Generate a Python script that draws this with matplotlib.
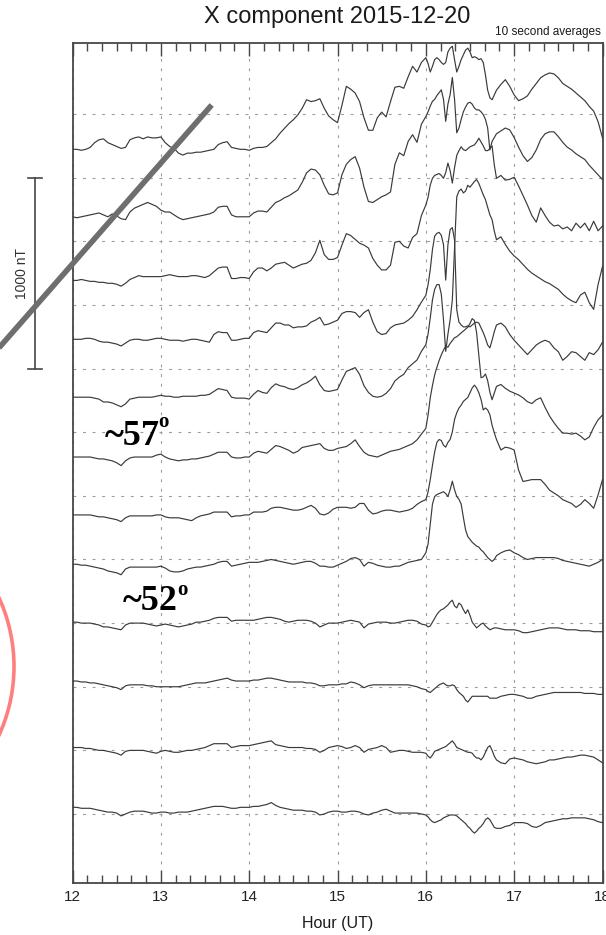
import numpy as np
import matplotlib
matplotlib.use("Agg")
import matplotlib.pyplot as plt
from matplotlib import transforms
from matplotlib.lines import Line2D
from matplotlib.patches import Circle
from matplotlib.ticker import MultipleLocator

plt.rcParams["font.family"] = ["Liberation Sans", "DejaVu Sans"]

# sample times (UT hours): 3 min steps, 1.5 min steps through the onset
hours = np.round(np.concatenate([
    np.arange(12.0, 15.99, 0.05),
    np.arange(16.0, 16.81, 0.025),
    np.arange(16.85, 18.01, 0.05),
]), 3)

# X component deviations (nT) for each station, highest latitude first
trace_1 = [
    -185, -185, -190, -185, -175, -150, -135, -130, -150, -160,
    -170, -180, -175, -135, -125, -120, -130, -120, -125, -125,
    -120, -150, -170, -180, -205, -215, -205, -205, -200, -200,
    -195, -190, -185, -160, -150, -145, -175, -180, -185, -185,
    -190, -180, -175, -175, -170, -150, -130, -100, -75, -50,
    -30, -5, 30, 75, 65, 70, 80, 30, -10, -30,
    -45, 45, 145, 130, 110, 65, -20, -85, -85, -20,
    10, -15, 65, 140, 145, 135, 195, 250, 220, 270,
    295, 265, 220, 250, 285, 295, 285, 270, 260, 270, 325, 345, 355, 285, 220, 250, 285,
    310, 335, 345, 325, 295, 300, 295, 285, 290, 270, 205, 125, 85, 75, 100, 125,
    155, 180, 145, 100, 70, 80, 95, 130, 160, 190, 205, 215,
    210, 190, 160, 145, 130, 110, 90, 70, 40, 15, -40, -125,
]
trace_2 = [
    -205, -210, -205, -200, -195, -190, -185, -195, -205, -190,
    -200, -215, -220, -180, -160, -150, -140, -130, -140, -150,
    -170, -180, -180, -195, -210, -220, -215, -210, -205, -200,
    -195, -190, -180, -155, -150, -150, -195, -205, -205, -205,
    -205, -185, -175, -175, -180, -155, -130, -120, -105, -95,
    -80, -65, -25, 25, 45, 40, 15, -40, -85, -90,
    -80, 15, 70, 95, 110, 50, -50, -125, -130, -115,
    -100, -90, -75, 70, 130, 115, 190, 225, 185, 280,
    320, 345, 375, 400, 410, 430, 445, 460, 410, 295, 385, 435, 525, 410, 235, 260, 305,
    345, 370, 390, 395, 385, 365, 355, 355, 345, 330, 305, 260, 145, 190, 210, 230,
    245, 260, 250, 210, 160, 115, 85, 105, 145, 200, 230, 240,
    240, 215, 185, 160, 145, 125, 110, 95, 65, 40, 15, -10,
]
trace_3 = [
    -205, -205, -200, -205, -210, -210, -215, -215, -220, -220,
    -225, -235, -220, -200, -190, -180, -185, -185, -185, -185,
    -185, -180, -175, -180, -185, -185, -185, -180, -180, -185,
    -190, -180, -160, -140, -135, -135, -195, -195, -190, -190,
    -195, -160, -140, -140, -155, -140, -120, -115, -110, -125,
    -140, -130, -120, -115, -100, -60, 5, -70, -95, -95,
    -85, -20, 40, 30, 10, -10, -20, -35, -90, -125,
    -150, -150, -125, -5, 0, -25, -35, 20, 40, 135,
    190, 230, 295, 330, 345, 350, 355, 345, 330, 360, 410, 370, 305, 385, 450, 475, 495,
    480, 475, 485, 495, 500, 505, 520, 540, 520, 500, 475, 475, 485, 500, 400, 330,
    345, 320, 325, 335, 290, 240, 190, 135, 100, 175, 135, 100,
    80, 85, 65, 75, 55, 95, 70, 95, 55, 105, 55, 80,
]
trace_4 = [
    -180, -180, -180, -175, -175, -180, -190, -195, -195, -200,
    -205, -215, -200, -185, -180, -180, -185, -185, -180, -175,
    -175, -180, -185, -185, -185, -190, -185, -180, -180, -185,
    -190, -195, -155, -140, -145, -145, -185, -185, -180, -175,
    -175, -145, -135, -140, -145, -120, -95, -95, -105, -105,
    -120, -115, -115, -110, -90, -80, -65, -105, -100, -90,
    -80, -45, -35, -35, -40, -65, -40, -25, -90, -140,
    -155, -150, -120, -105, -100, -95, -80, -60, -25, 15,
    50, 105, 185, 290, 360, 375, 380, 365, 315, 130, 315, 395, 405, 340, -25, -90, -105,
    -115, -115, -110, -115, -105, -95, -90, -95, -120, -145, -175, -210, -225, -185, -140, -105,
    -95, -115, -155, -185, -210, -235, -260, -235, -210, -195, -185, -195,
    -225, -245, -290, -270, -245, -250, -270, -290, -250, -260, -235, -195,
]
trace_5 = [
    -150, -150, -150, -150, -150, -155, -160, -175, -175, -180,
    -190, -200, -185, -160, -155, -150, -150, -150, -150, -145,
    -140, -145, -145, -150, -150, -145, -145, -145, -145, -140,
    -140, -135, -120, -105, -110, -115, -150, -155, -155, -155,
    -160, -135, -115, -125, -130, -100, -80, -90, -95, -105,
    -110, -100, -85, -75, -60, -40, -85, -115, -120, -115,
    -110, -60, -15, -5, 5, -30, -90, -125, -145, -150,
    -145, -130, -105, -65, -45, -30, 5, 25, 45, 90,
    125, 180, 265, 360, 415, 440, 440, 390, 255, 90, 180, 255, 360, 625, 900, 930, 940,
    920, 930, 960, 950, 965, 980, 990, 970, 940, 910, 885, 845, 805, 780, 720, 675,
    690, 650, 615, 590, 570, 545, 520, 500, 485, 470, 455, 445,
    430, 415, 390, 370, 355, 345, 385, 400, 345, 310, 440, 535,
]
trace_6 = [
    -130, -130, -130, -130, -130, -135, -140, -140, -145, -150,
    -160, -175, -150, -135, -130, -130, -130, -130, -130, -120,
    -115, -130, -140, -145, -150, -145, -145, -140, -140, -135,
    -130, -125, -115, -105, -105, -105, -130, -135, -135, -130,
    -130, -110, -100, -105, -110, -90, -70, -75, -85, -95,
    -110, -100, -80, -75, -70, -65, -60, -85, -95, -95,
    -85, -80, -75, -60, -40, -75, -105, -120, -125, -130,
    -120, -110, -100, -95, -90, -80, -70, -60, -40, -10,
    20, 90, 180, 245, 300, 340, 375, 405, 430, 450, 445, 465, 480, 495, 500, 510, 520,
    530, 540, 550, 570, 595, 585, 520, 405, 285, 290, 305, 270, 210, 170, 205, 240,
    250, 230, 215, 205, 195, 180, 160, 150, 170, 180, 130, 85,
    50, 20, -5, -5, -10, -5, -20, -40, -25, 25, 65, 90,
]
trace_7 = [
    -100, -100, -100, -100, -100, -105, -110, -110, -115, -120,
    -125, -135, -115, -105, -105, -105, -105, -105, -105, -100,
    -100, -110, -115, -115, -115, -120, -125, -130, -115, -105,
    -100, -95, -85, -85, -85, -85, -110, -105, -105, -100,
    -100, -85, -85, -85, -80, -65, -60, -60, -65, -70,
    -75, -75, -70, -60, -50, -65, -95, -100, -90, -70,
    -60, -60, -60, -65, -60, -40, -40, -75, -95, -90,
    -80, -75, -75, -80, -85, -80, -75, -65, -45, -30,
    -20, 20, 85, 160, 230, 280, 295, 290, 265, 255, 280, 295, 335, 400, 435, 460, 475,
    495, 505, 515, 540, 565, 580, 565, 540, 505, 450, 460, 450, 425, 370, 330, 295,
    240, 255, 250, 240, 135, 75, 80, 85, 85, 85, 60, 30,
    15, 0, -20, -30, -40, -60, -45, -20, -40, -65, 5, 85,
]
trace_8 = [
    -25, -25, -30, -30, -35, -40, -45, -50, -60, -65,
    -70, -80, -50, -40, -40, -40, -40, -40, -40, -40,
    -35, -45, -60, -65, -65, -60, -50, -45, -40, -40,
    -35, -30, -25, -15, -10, -10, -35, -30, -25, -20,
    -15, -15, -15, -10, -5, 0, -5, -10, -15, -20,
    -25, -20, -15, -10, -10, -20, -35, -35, -40, -40,
    -30, -20, -10, 5, 10, 0, -35, -15, -20, -30,
    -35, -40, -40, -35, -35, -25, -15, -10, -5, 0,
    35, 80, 185, 290, 330, 340, 345, 350, 355, 345, 330, 365, 410, 365, 330, 315, 290,
    220, 155, 120, 105, 90, 80, 70, 65, 50, 40, 25, 10, 0, -10, 0, 20,
    35, 45, 50, 35, 25, 10, 0, 5, 10, 10, 10, 10,
    10, 5, -5, -10, -15, -20, -25, -30, -35, -25, -15, 0,
]
trace_9 = [
    5, 5, 0, 0, 0, -5, -10, -20, -20, -25,
    -30, -35, -10, 0, 0, 0, 0, -5, -10, -15,
    -10, -5, -10, -15, -20, -15, -10, -5, 5, 5,
    10, 15, 25, 30, 30, 30, 10, 15, 15, 15,
    15, 15, 20, 25, 30, 30, 25, 20, 10, 5,
    10, 15, 15, 15, 10, 0, -20, -10, 0, 0,
    0, 5, 10, 15, 10, 5, -25, -5, 0, 5,
    5, 5, 0, 0, 5, 10, 15, 15, 10, -5,
    -10, -20, -15, 5, 25, 45, 60, 70, 75, 85, 95, 110, 120, 90, 80, 105, 95,
    70, 50, 70, 40, 5, -10, -25, -15, -5, 0, -15, -25, -35, -30, -25, -25,
    -30, -35, -35, -35, -40, -50, -50, -45, -40, -35, -30, -25,
    -25, -25, -30, -35, -35, -35, -40, -40, -40, -45, -45, -45,
]
trace_10 = [
    30, 30, 25, 25, 20, 20, 15, 10, 5, 0,
    -5, -15, 5, 10, 10, 10, 10, 5, 5, 0,
    0, 0, 0, 0, 0, 5, 10, 15, 20, 20,
    20, 25, 30, 35, 40, 45, 35, 30, 30, 30,
    30, 35, 35, 40, 45, 45, 40, 35, 30, 25,
    25, 25, 25, 20, 20, 15, 5, 5, 10, 10,
    10, 15, 15, 25, 20, 10, -5, 5, 10, 10,
    10, 10, 10, 10, 10, 10, 10, 5, 0, -10,
    -15, -25, -30, -20, -10, 0, 10, 15, 20, 10, 5, 5, 10, 5, -15, -30, -40,
    -50, -70, -80, -65, -50, -50, -50, -50, -50, -50, -50, -50, -60, -60, -60, -60,
    -50, -45, -40, -40, -45, -50, -60, -60, -50, -45, -40, -35,
    -30, -30, -30, -30, -30, -30, -30, -35, -35, -35, -40, -40,
]
trace_11 = [
    15, 15, 15, 10, 10, 5, 0, 0, -5, -10,
    -15, -25, -5, 0, 0, 0, 0, -5, -10, -15,
    -5, 0, -5, -10, -10, -5, 0, 0, 5, 10,
    15, 25, 35, 35, 35, 35, 15, 20, 25, 25,
    25, 30, 35, 40, 45, 50, 30, 25, 20, 15,
    15, 15, 15, 10, 10, 5, -10, 0, 15, 20,
    25, 20, 10, 15, 25, 15, -10, 5, 10, 15,
    25, 15, -10, -5, 0, 0, -5, -10, -10, -10,
    -15, -30, -40, -25, -5, 0, 5, 10, 15, 20, 30, 40, 50, 35, 15, 10, 5,
    0, -5, -10, -10, -15, -30, -40, -40, -50, -35, -10, 15, 25, 0, -30, -50,
    -65, -70, -45, -40, -45, -50, -60, -65, -70, -65, -60, -50,
    -50, -45, -40, -35, -35, -30, -25, -25, -30, -35, -50, -65,
]
trace_12 = [
    35, 35, 30, 30, 30, 25, 20, 15, 10, 10,
    5, -10, 0, 10, 15, 15, 15, 10, 5, 5,
    10, 10, 5, 5, 10, 10, 10, 15, 20, 25,
    30, 35, 40, 40, 40, 35, 30, 30, 35, 35,
    35, 40, 40, 45, 50, 60, 45, 35, 30, 25,
    20, 20, 20, 15, 15, 10, -5, 0, 10, 15,
    15, 10, 10, 15, 15, 10, 0, -5, 5, 10,
    20, 25, 15, 5, 5, 5, 5, 5, 5, 0,
    -5, -15, -30, -40, -45, -40, -35, -30, -20, -15, -10, -5, -5, -5, -10, -20, -30,
    -40, -50, -65, -75, -90, -100, -90, -75, -65, -50, -30, -20, -30, -50, -70, -75,
    -75, -65, -60, -45, -45, -45, -50, -65, -70, -60, -45, -40,
    -35, -30, -25, -25, -20, -20, -20, -20, -25, -30, -40, -45,
]

traces = [trace_1, trace_2, trace_3, trace_4, trace_5, trace_6,
          trace_7, trace_8, trace_9, trace_10, trace_11, trace_12]

for n, tr in enumerate(traces, start=1):
    if len(tr) != len(hours):
        raise ValueError(f"trace_{n}: {len(tr)} values for {len(hours)} times")

spacing = 1000.0 / 3.0          # nT between station baselines
baselines = -spacing * np.arange(len(traces))
line_color = "#3a3a3a"
frame_color = "#474747"

fig = plt.figure(figsize=(6.06, 9.35), dpi=100)
ax = fig.add_axes([72.5 / 606, 52 / 935, 530 / 606, 840 / 935])

for base, tr in zip(baselines, traces):
    ax.plot(hours, np.asarray(tr) + base, color=line_color, lw=0.85, zorder=3)

ax.set_xlim(12, 18)
ax.set_ylim(-4028, 372)

# dotted guide lines at every hour and every station baseline
ax.set_xticks(range(12, 19))
ax.set_xticklabels([str(h) for h in range(12, 19)])
ax.xaxis.set_minor_locator(MultipleLocator(1 / 6))
ax.set_yticks(baselines)
ax.grid(True, which="major", color="#9c9c9c", linestyle=(0, (2.6, 6.0)), linewidth=0.8)
ax.tick_params(axis="y", length=0, labelleft=False)
ax.tick_params(axis="x", which="major", direction="in", length=9.4, width=1.0,
               top=True, bottom=True, color=frame_color, labelsize=11, pad=5,
               labelcolor="#222222")
ax.tick_params(axis="x", which="minor", direction="in", length=5.8, width=1.0,
               top=True, bottom=True, color=frame_color)
for sp in ax.spines.values():
    sp.set_color(frame_color)
    sp.set_linewidth(1.3)

fig.text(337.5 / 606, 1 - 23.5 / 935, "X component 2015-12-20", ha="center",
         va="baseline", fontsize=17, color="#1a1a1a")
fig.text(601 / 606, 1 - 35.5 / 935, "10 second averages", ha="right",
         va="baseline", fontsize=8.5, color="#1a1a1a")
fig.text(337.5 / 606, 1 - 928 / 935, "Hour (UT)", ha="center", va="baseline",
         fontsize=11.5, color="#1a1a1a")

# 1000 nT scale bar left of the panel
bar = transforms.blended_transform_factory(fig.transFigure, ax.transData)
y0, y1 = baselines[1], baselines[1] - 1000
ax.plot([35 / 606, 35 / 606], [y0, y1], color=frame_color, lw=1.2,
        transform=bar, clip_on=False)
for yc in (y0, y1):
    ax.plot([28 / 606, 42 / 606], [yc, yc], color=frame_color, lw=1.2,
            transform=bar, clip_on=False)
ax.text(22 / 606, (y0 + y1) / 2, "1000 nT", transform=bar, rotation=90,
        ha="center", va="center", fontsize=10, color="#333333")

# latitude labels
serif = ["Liberation Serif", "DejaVu Serif"]
ax.text(12.368, -1734, "~57", family=serif, fontweight="bold", fontsize=26,
        ha="left", va="baseline", zorder=5)
ax.text(12.975, -1640, "o", family=serif, fontweight="bold", fontsize=15,
        ha="left", va="baseline", zorder=5)
ax.text(12.573, -2598, "~52", family=serif, fontweight="bold", fontsize=26,
        ha="left", va="baseline", zorder=5)
ax.text(13.19, -2519, "o", family=serif, fontweight="bold", fontsize=15,
        ha="left", va="baseline", zorder=5)

# gray slash and red ring drawn over the figure (inches from lower left)
fig.add_artist(Line2D([-0.2, 2.117], [5.655, 8.30], transform=fig.dpi_scale_trans,
                      color="#6e6e6e", lw=4.0, solid_capstyle="butt", zorder=10))
fig.add_artist(Circle((-1.51, 2.685), 1.65, transform=fig.dpi_scale_trans,
                      fill=False, edgecolor="#ff7f7f", lw=2.6, zorder=10))

fig.savefig("out.png", dpi=100)
